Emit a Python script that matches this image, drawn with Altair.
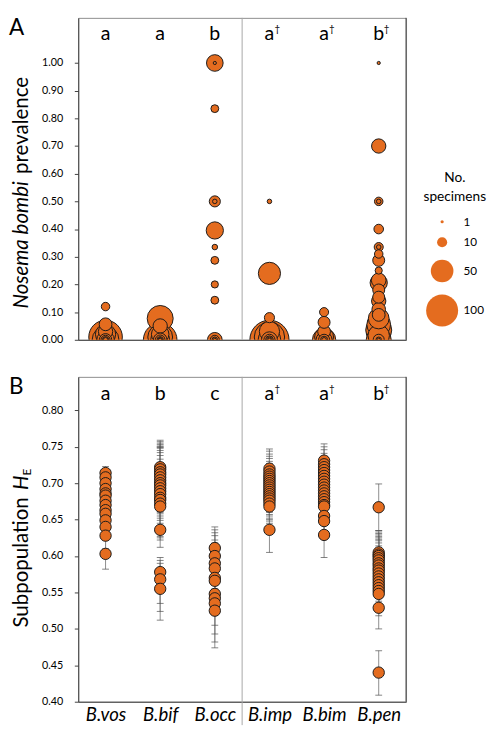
import altair as alt
import pandas as pd

FONT = "Lato"
ORANGE = "#E46C1F"
EDGE = "#1a1a1a"

species = ["B.vos", "B.bif", "B.occ", "B.imp", "B.bim", "B.pen"]
letters_top = ["a", "a", "b", "a", "a", "b"]
letters_bottom = ["a", "b", "c", "a", "a", "b"]
daggers = ["", "", "", "†", "†", "†"]

# ---- Panel A: Nosema bombi prevalence per site and number of specimens ----
vos_prev = [0.12, 0.056, 0.03, 0.02, 0.01, 0.0, 0.0, 0.0, 0.0, 0.0, 0.0]
vos_n = [7, 16, 20, 40, 110, 70, 30, 15, 8, 4, 2]
bif_prev = [0.077, 0.05, 0.02, 0.01, 0.0, 0.0, 0.0, 0.0, 0.0, 0.0, 0.0]
bif_n = [66, 20, 30, 60, 110, 35, 18, 9, 4, 2, 1]
occ_prev = [1.0, 1.0, 0.835, 0.50, 0.50, 0.395, 0.335, 0.287, 0.20, 0.143, 0.0, 0.0, 0.0, 0.0]
occ_n = [27, 1, 6, 12, 2, 29, 3, 6, 5, 6, 21, 8, 3, 1]
imp_prev = [0.50, 0.24, 0.08, 0.03, 0.01, 0.0, 0.0, 0.0, 0.0, 0.0, 0.0, 0.0]
imp_n = [2, 48, 10, 40, 90, 150, 50, 25, 12, 6, 3, 1]
bim_prev = [0.10, 0.063, 0.03, 0.01, 0.0, 0.0, 0.0, 0.0, 0.0]
bim_n = [8, 14, 16, 35, 53, 25, 12, 5, 2]
pen_prev = [1.0, 0.70, 0.50, 0.50, 0.40, 0.335, 0.335, 0.31, 0.287, 0.25, 0.215,
            0.206, 0.18, 0.154, 0.14, 0.11, 0.09, 0.077, 0.055, 0.035, 0.015,
            0.0, 0.0, 0.0, 0.0]
pen_n = [1, 20, 7, 2, 9, 8, 2, 7, 14, 5, 21, 29, 14, 14, 20, 18, 16, 42, 55, 66,
         45, 61, 12, 3, 1]

# ---- Panel B: subpopulation expected heterozygosity with error bars ----
vos_he = [0.714, 0.708, 0.700, 0.692, 0.686, 0.683, 0.676, 0.670, 0.663, 0.658,
          0.649, 0.640, 0.628, 0.603]
vos_lo = [0.700, 0.695, 0.688, 0.679, 0.672, 0.668, 0.660, 0.655, 0.648, 0.642,
          0.633, 0.624, 0.610, 0.582]
vos_hi = [0.723, 0.720, 0.712, 0.705, 0.699, 0.697, 0.691, 0.686, 0.679, 0.674,
          0.666, 0.657, 0.646, 0.623]
bif_he = [0.722, 0.719, 0.715, 0.712, 0.708, 0.704, 0.700, 0.697, 0.693, 0.689,
          0.685, 0.680, 0.677, 0.672, 0.668, 0.636, 0.578, 0.568, 0.555]
bif_lo = [0.686, 0.682, 0.676, 0.672, 0.668, 0.662, 0.658, 0.655, 0.652, 0.649,
          0.645, 0.640, 0.627, 0.625, 0.622, 0.612, 0.535, 0.524, 0.512]
bif_hi = [0.759, 0.757, 0.755, 0.753, 0.751, 0.750, 0.749, 0.748, 0.745, 0.742,
          0.738, 0.733, 0.728, 0.724, 0.720, 0.660, 0.598, 0.594, 0.590]
occ_he = [0.611, 0.600, 0.590, 0.583, 0.570, 0.566, 0.548, 0.542, 0.535, 0.525]
occ_lo = [0.585, 0.575, 0.560, 0.555, 0.540, 0.530, 0.505, 0.493, 0.482, 0.474]
occ_hi = [0.640, 0.636, 0.632, 0.628, 0.622, 0.618, 0.612, 0.608, 0.604, 0.600]
imp_he = [0.720, 0.716, 0.712, 0.709, 0.706, 0.703, 0.700, 0.697, 0.694, 0.691,
          0.688, 0.685, 0.682, 0.679, 0.676, 0.672, 0.668, 0.636]
imp_lo = [0.692, 0.689, 0.685, 0.681, 0.678, 0.675, 0.672, 0.668, 0.665, 0.662,
          0.660, 0.657, 0.655, 0.652, 0.650, 0.648, 0.645, 0.605]
imp_hi = [0.747, 0.744, 0.740, 0.737, 0.734, 0.730, 0.727, 0.724, 0.720, 0.717,
          0.714, 0.711, 0.708, 0.705, 0.702, 0.698, 0.694, 0.662]
bim_he = [0.731, 0.726, 0.722, 0.718, 0.714, 0.710, 0.706, 0.702, 0.698, 0.694,
          0.690, 0.686, 0.682, 0.678, 0.674, 0.670, 0.668, 0.655, 0.648, 0.629]
bim_lo = [0.708, 0.703, 0.699, 0.695, 0.691, 0.687, 0.683, 0.679, 0.675, 0.671,
          0.667, 0.663, 0.659, 0.655, 0.651, 0.647, 0.645, 0.632, 0.625, 0.598]
bim_hi = [0.754, 0.750, 0.746, 0.741, 0.737, 0.733, 0.729, 0.725, 0.721, 0.717,
          0.713, 0.709, 0.705, 0.701, 0.697, 0.693, 0.690, 0.677, 0.670, 0.652]
pen_he = [0.667, 0.605, 0.602, 0.600, 0.597, 0.594, 0.590, 0.587, 0.583, 0.580,
          0.576, 0.572, 0.568, 0.564, 0.560, 0.556, 0.552, 0.548, 0.529, 0.440]
pen_lo = [0.635, 0.575, 0.572, 0.570, 0.567, 0.564, 0.560, 0.557, 0.553, 0.550,
          0.546, 0.542, 0.538, 0.534, 0.530, 0.527, 0.524, 0.518, 0.500, 0.409]
pen_hi = [0.699, 0.635, 0.633, 0.631, 0.629, 0.627, 0.625, 0.623, 0.621, 0.618,
          0.614, 0.610, 0.606, 0.602, 0.598, 0.594, 0.590, 0.586, 0.560, 0.470]

prev_ticks = [0.0, 0.1, 0.2, 0.3, 0.4, 0.5, 0.6, 0.7, 0.8, 0.9, 1.0]
he_ticks = [0.40, 0.45, 0.50, 0.55, 0.60, 0.65, 0.70, 0.75, 0.80]
legend_values = [1, 10, 50, 100]

# ---- tables ----
rowsA = []
for sp, pv, nn in zip(species,
                      [vos_prev, bif_prev, occ_prev, imp_prev, bim_prev, pen_prev],
                      [vos_n, bif_n, occ_n, imp_n, bim_n, pen_n]):
    for p, n in zip(pv, nn):
        rowsA.append({"species": sp, "prev": p, "n": n})
dfA = pd.DataFrame(rowsA)

rowsB = []
for sp, hv, lv, uv in zip(species,
                          [vos_he, bif_he, occ_he, imp_he, bim_he, pen_he],
                          [vos_lo, bif_lo, occ_lo, imp_lo, bim_lo, pen_lo],
                          [vos_hi, bif_hi, occ_hi, imp_hi, bim_hi, pen_hi]):
    for h, lo, hi in zip(hv, lv, uv):
        rowsB.append({"species": sp, "he": h, "lo": lo, "hi": hi})
dfB = pd.DataFrame(rowsB)

dfL = pd.DataFrame({"species": species, "top": letters_top,
                    "bottom": letters_bottom, "dagger": daggers})
one = pd.DataFrame({"k": [0]})

W = 336
HA = 330
HB = 333
DIV_X = 168
TX = -52

xscale = alt.Scale(type="point", domain=species, padding=0.5)

# ---------------- Panel A ----------------
xA = alt.X("species:N", scale=xscale,
           axis=alt.Axis(title=None, labels=False, ticks=False, domain=True))
yA_scale = alt.Scale(domain=[0, 1.163], nice=False, zero=False)

size_legend = alt.Legend(
    title=["No.", "specimens"], orient="none", legendX=354, legendY=157,
    values=legend_values, padding=0,
    titleFont=FONT, titleFontSize=14, titleFontWeight="normal", titleColor="black",
    titleAlign="center", titleAnchor="middle", titleLineHeight=20, titlePadding=12,
    labelFont=FONT, labelFontSize=12, labelColor="black", labelOffset=5,
    rowPadding=7, symbolType="circle", symbolFillColor=ORANGE,
    symbolStrokeColor=EDGE, symbolStrokeWidth=1, symbolOpacity=1,
)

pointsA = alt.Chart(dfA).mark_circle(
    color=ORANGE, fill=ORANGE, stroke=EDGE, strokeWidth=1, opacity=1, clip=True
).encode(
    x=xA,
    y=alt.Y("prev:Q", scale=yA_scale,
            axis=alt.Axis(title=None, values=prev_ticks, format=".2f",
                          tickSize=4, labelPadding=12, grid=False)),
    size=alt.Size("n:Q", scale=alt.Scale(domain=[0, 100], range=[0, 1075]),
                  legend=size_legend),
    order=alt.Order("n:Q", sort="descending"),
)

dividerA = alt.Chart(one).mark_rule(color="#a6a6a6", strokeWidth=1).encode(
    x=alt.value(DIV_X), y=alt.value(0), y2=alt.value(HA))
rightA = alt.Chart(one).mark_rule(color="#404040", strokeWidth=1).encode(
    x=alt.value(W), y=alt.value(0), y2=alt.value(HA))

lettersA = alt.Chart(dfL).mark_text(font=FONT, fontSize=20, baseline="alphabetic",
                                    color="black").encode(
    x=xA, y=alt.value(23), text="top:N")
daggerA = alt.Chart(dfL).mark_text(font=FONT, fontSize=10, baseline="alphabetic",
                                   dx=8, color="black").encode(
    x=xA, y=alt.value(15), text="dagger:N")

labelA = alt.Chart(one).mark_text(text="A", font=FONT, fontSize=23, align="left",
                                  baseline="top", color="black").encode(
    x=alt.value(-71), y=alt.value(0))
titleA1 = alt.Chart(one).mark_text(text="Nosema bombi", font=FONT, fontSize=21,
                                   fontStyle="italic", angle=270, align="left",
                                   baseline="alphabetic", color="black").encode(
    x=alt.value(TX), y=alt.value(298))
titleA2 = alt.Chart(one).mark_text(text="prevalence", font=FONT, fontSize=21,
                                   angle=270, align="left",
                                   baseline="alphabetic", color="black").encode(
    x=alt.value(TX), y=alt.value(160))

panelA = alt.layer(dividerA, rightA, pointsA, lettersA, daggerA, labelA,
                   titleA1, titleA2).properties(width=W, height=HA)

# ---------------- Panel B ----------------
xB = alt.X("species:N", scale=xscale,
           axis=alt.Axis(title=None, labelFont=FONT, labelFontSize=19,
                         labelFontStyle="italic", labelColor="black",
                         ticks=False, labelPadding=4, labelAngle=0))
yB_scale = alt.Scale(domain=[0.40, 0.846], nice=False, zero=False)
yB_axis = alt.Axis(title=None, values=he_ticks, format=".2f",
                   tickSize=4, labelPadding=12, grid=False)

dividerB = alt.Chart(one).mark_rule(color="#a6a6a6", strokeWidth=1).encode(
    x=alt.value(DIV_X), y=alt.value(0), y2=alt.value(HB + 24))
rightB = alt.Chart(one).mark_rule(color="#404040", strokeWidth=1).encode(
    x=alt.value(W), y=alt.value(0), y2=alt.value(HB))

bars = alt.Chart(dfB).mark_rule(color="#8c8c8c", strokeWidth=1).encode(
    x=xB, y=alt.Y("lo:Q", scale=yB_scale, axis=yB_axis), y2="hi:Q")
capsLo = alt.Chart(dfB).mark_tick(color="#4d4d4d", thickness=1, size=7).encode(
    x=xB, y=alt.Y("lo:Q", scale=yB_scale, axis=yB_axis))
capsHi = alt.Chart(dfB).mark_tick(color="#4d4d4d", thickness=1, size=7).encode(
    x=xB, y=alt.Y("hi:Q", scale=yB_scale, axis=yB_axis))
pointsB = alt.Chart(dfB).mark_circle(
    color=ORANGE, fill=ORANGE, stroke=EDGE, strokeWidth=1, opacity=1, size=135
).encode(x=xB, y=alt.Y("he:Q", scale=yB_scale, axis=yB_axis))

lettersB = alt.Chart(dfL).mark_text(font=FONT, fontSize=20, baseline="alphabetic",
                                    color="black").encode(
    x=xB, y=alt.value(24), text="bottom:N")
daggerB = alt.Chart(dfL).mark_text(font=FONT, fontSize=10, baseline="alphabetic",
                                   dx=8, color="black").encode(
    x=xB, y=alt.value(16), text="dagger:N")

labelB = alt.Chart(one).mark_text(text="B", font=FONT, fontSize=23, align="left",
                                  baseline="top", color="black").encode(
    x=alt.value(-71), y=alt.value(0))
titleB1 = alt.Chart(one).mark_text(text="Subpopulation", font=FONT, fontSize=21,
                                   angle=270, align="left",
                                   baseline="alphabetic", color="black").encode(
    x=alt.value(TX), y=alt.value(257))
titleB2 = alt.Chart(one).mark_text(text="H", font=FONT, fontSize=21,
                                   fontStyle="italic", angle=270, align="left",
                                   baseline="alphabetic", color="black").encode(
    x=alt.value(TX), y=alt.value(116))
titleB3 = alt.Chart(one).mark_text(text="E", font=FONT, fontSize=12,
                                   angle=270, align="left",
                                   baseline="alphabetic", color="black").encode(
    x=alt.value(TX + 4), y=alt.value(101))

panelB = alt.layer(dividerB, rightB, bars, capsLo, capsHi, pointsB, lettersB,
                   daggerB, labelB, titleB1, titleB2, titleB3
                   ).properties(width=W, height=HB)

chart = alt.vconcat(panelA, panelB, spacing=31).properties(
    padding=0
).configure_view(
    stroke="#8c8c8c", strokeWidth=1
).configure_axis(
    domainColor="#404040", tickColor="#404040", labelFont=FONT, labelFontSize=11,
    labelColor="black", grid=False
)

chart.save("out.html", embed_options={"renderer": "svg", "actions": False})
